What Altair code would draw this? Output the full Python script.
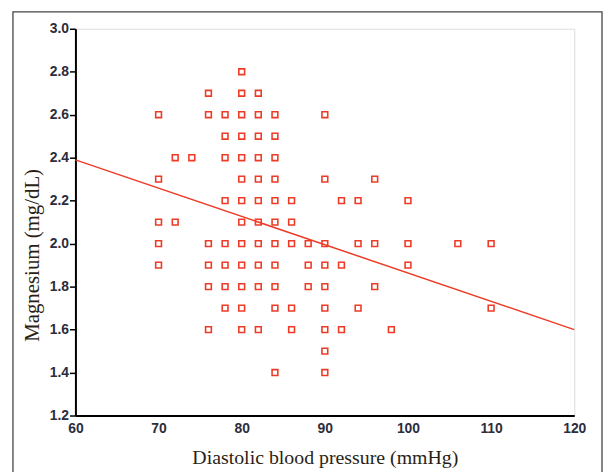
import altair as alt
import pandas as pd

# Magnesium level rows (mg/dL) and the diastolic BP values (mmHg) observed at each level
mg_levels = [2.8, 2.7, 2.6, 2.5, 2.4, 2.3, 2.2, 2.1, 2.0, 1.9, 1.8, 1.7, 1.6, 1.5, 1.4]
dbp_at_28 = [80]
dbp_at_27 = [76, 80, 82]
dbp_at_26 = [70, 76, 78, 80, 82, 84, 90]
dbp_at_25 = [78, 80, 82, 84]
dbp_at_24 = [72, 74, 78, 80, 82, 84]
dbp_at_23 = [70, 80, 82, 84, 90, 96]
dbp_at_22 = [78, 80, 82, 84, 86, 92, 94, 100]
dbp_at_21 = [70, 72, 80, 82, 84, 86]
dbp_at_20 = [70, 76, 78, 80, 82, 84, 86, 88, 90, 94, 96, 100, 106, 110]
dbp_at_19 = [70, 76, 78, 80, 82, 84, 88, 90, 92, 100]
dbp_at_18 = [76, 78, 80, 82, 84, 88, 90, 96]
dbp_at_17 = [78, 80, 84, 86, 90, 94, 110]
dbp_at_16 = [76, 80, 82, 86, 90, 92, 98]
dbp_at_15 = [90]
dbp_at_14 = [84, 90]

dbp_rows = [dbp_at_28, dbp_at_27, dbp_at_26, dbp_at_25, dbp_at_24, dbp_at_23,
            dbp_at_22, dbp_at_21, dbp_at_20, dbp_at_19, dbp_at_18, dbp_at_17,
            dbp_at_16, dbp_at_15, dbp_at_14]

# Fitted regression line end points
line_x = [60, 120]
line_y = [2.39, 1.60]

x_ticks = [60, 70, 80, 90, 100, 110, 120]
y_ticks = [1.2, 1.4, 1.6, 1.8, 2.0, 2.2, 2.4, 2.6, 2.8, 3.0]

points = pd.DataFrame(
    [{"dbp": x, "mg": m} for m, xs in zip(mg_levels, dbp_rows) for x in xs]
)
fit = pd.DataFrame({"dbp": line_x, "mg": line_y})

RED = "#ee3b26"
LABEL_COLOR = "#2c2c3c"
TITLE_COLOR = "#2a1e14"

x_scale = alt.Scale(domain=[60, 120], nice=False, zero=False)
y_scale = alt.Scale(domain=[1.2, 3.0], nice=False, zero=False)

x_axis = alt.Axis(
    values=x_ticks, format="d", grid=False, ticks=False,
    domainColor="black", domainWidth=2,
    labelFont="Liberation Sans", labelFontSize=14, labelFontWeight="bold",
    labelColor=LABEL_COLOR, labelPadding=6, labelFlush=False,
    title="Diastolic blood pressure (mmHg)", titleFont="Liberation Serif",
    titleFontSize=20, titleFontWeight="normal", titleColor=TITLE_COLOR,
    titlePadding=12,
)
y_axis = alt.Axis(
    values=y_ticks, format=".1f", grid=False, ticks=True, tickSize=6,
    tickColor="black", tickWidth=1.5,
    domainColor="black", domainWidth=2,
    labelFont="Liberation Sans", labelFontSize=14, labelFontWeight="bold",
    labelColor=LABEL_COLOR, labelPadding=1, labelFlush=False,
    title="Magnesium (mg/dL)", titleFont="Liberation Serif",
    titleFontSize=21, titleFontWeight="normal", titleColor=TITLE_COLOR,
    titleX=-43, titleY=228, titleAngle=-90, titleAlign="center",
    titleBaseline="middle",
)

frame = alt.Chart(pd.DataFrame({"a": [0]})).mark_rect(
    fill=None, stroke="#444444", strokeWidth=1.3
).encode(
    x=alt.value(-63), x2=alt.value(531), y=alt.value(-17), y2=alt.value(470)
)

scatter = alt.Chart(points).mark_point(
    shape="square", filled=False, size=34, color=RED, strokeWidth=1.6, opacity=1
).encode(
    x=alt.X("dbp:Q", scale=x_scale, axis=x_axis),
    y=alt.Y("mg:Q", scale=y_scale, axis=y_axis),
)

line = alt.Chart(fit).mark_line(color=RED, strokeWidth=1.5).encode(
    x=alt.X("dbp:Q", scale=x_scale),
    y=alt.Y("mg:Q", scale=y_scale),
)

chart = alt.layer(frame, line, scatter).properties(
    width=503, height=390,
    autosize=alt.AutoSizeParams(type="none"),
    padding={"left": 68, "top": 19, "right": 29, "bottom": 55},
).configure_view(stroke=None).configure(background="white")

chart.save("out.html", embed_options={"renderer": "svg", "actions": False})
